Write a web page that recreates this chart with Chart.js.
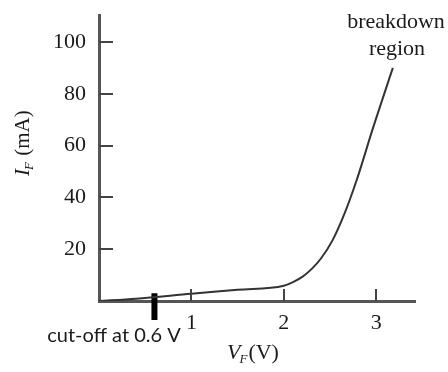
<!DOCTYPE html>
<html>
<head>
<meta charset="utf-8">
<script src="https://cdn.jsdelivr.net/npm/chart.js@4.4.0/dist/chart.umd.min.js"></script>
<style>
  html, body { margin: 0; padding: 0; background: #fff; }
  #diode { display: block; }
</style>
</head>
<body>
<canvas id="diode" width="448" height="372"></canvas>
<script>
// forward characteristic, V (volts) vs I (mA)
const voltage = [0, 0.4, 1, 1.5, 2, 2.1, 2.2, 2.3, 2.4, 2.53, 2.66, 2.79, 2.97, 3.18];
const current = [0, 0.9, 2.8, 4.3, 5.9, 7.3, 9.3, 12.3, 16.3, 23.6, 34, 46.8, 67.3, 90];

const xTicks = [1, 2, 3];
const yTicks = [20, 40, 60, 80, 100];
const xMax = 3.42;
const yMax = 110.4;

// short heavy marker for the cut-off point
const cutoffVoltage = 0.6;
const cutoffSpan = [3, -7.3];

const serif = "'Liberation Serif', 'Times New Roman', serif";
const ink = '#1a1a1a';

const curvePoints = voltage.map((v, i) => ({ x: v, y: current[i] }));
const cutoffPoints = cutoffSpan.map(c => ({ x: cutoffVoltage, y: c }));

// draws "main" + subscript + rest, starting at (x, y) on the baseline
function subText(ctx, main, sub, rest, x, y, size) {
  ctx.textBaseline = 'alphabetic';
  ctx.textAlign = 'left';
  ctx.font = 'italic ' + size + 'px ' + serif;
  ctx.fillText(main, x, y);
  x += ctx.measureText(main).width - 1;
  ctx.font = 'italic ' + Math.round(size * 0.6) + 'px ' + serif;
  ctx.fillText(sub, x, y + 4);
  x += ctx.measureText(sub).width + 1;
  ctx.font = size + 'px ' + serif;
  ctx.fillText(rest, x, y);
}

const annotations = {
  id: 'annotations',
  afterDraw(chart) {
    const ctx = chart.ctx;
    const xs = chart.scales.x, ys = chart.scales.y;
    const area = chart.chartArea;
    ctx.save();

    // tick marks pointing into the plot
    ctx.strokeStyle = '#444';
    ctx.lineWidth = 2;
    ctx.beginPath();
    xTicks.forEach(t => {
      const px = Math.round(xs.getPixelForValue(t));
      ctx.moveTo(px, area.bottom);
      ctx.lineTo(px, area.bottom - 12);
    });
    yTicks.forEach(t => {
      const py = Math.round(ys.getPixelForValue(t));
      ctx.moveTo(area.left, py);
      ctx.lineTo(area.left + 14, py);
    });
    ctx.stroke();

    ctx.fillStyle = ink;

    // breakdown label
    ctx.font = '22px ' + serif;
    ctx.textAlign = 'center';
    ctx.textBaseline = 'alphabetic';
    ctx.fillText('breakdown', 396, 28);
    ctx.fillText('region', 397, 55);

    // cut-off label
    ctx.font = "20px Lato, 'Liberation Sans', sans-serif";
    ctx.fillText('cut-off at 0.6 V', 114, 342);

    // axis titles
    subText(ctx, 'V', 'F', '(V)', 227, 359, 22);

    ctx.translate(29, 176);
    ctx.rotate(-Math.PI / 2);
    subText(ctx, 'I', 'F', ' (mA)', 0, 0, 21);

    ctx.restore();
  }
};

new Chart(document.getElementById('diode'), {
  type: 'line',
  data: {
    datasets: [
      {
        data: curvePoints,
        borderColor: '#333',
        borderWidth: 2,
        pointRadius: 0,
        cubicInterpolationMode: 'monotone',
        fill: false
      },
      {
        data: cutoffPoints,
        borderColor: '#000',
        borderWidth: 6,
        borderCapStyle: 'butt',
        pointRadius: 0,
        clip: false
      }
    ]
  },
  options: {
    responsive: false,
    animation: false,
    devicePixelRatio: 1,
    layout: { padding: { top: 15, right: 33, left: 0, bottom: 0 } },
    plugins: {
      legend: { display: false },
      tooltip: { enabled: false }
    },
    scales: {
      x: {
        type: 'linear',
        min: 0,
        max: xMax,
        afterBuildTicks: s => { s.ticks = xTicks.map(v => ({ value: v })); },
        afterFit: s => { s.height = 71; s.paddingLeft = 0; s.paddingRight = 0; },
        grid: { display: false, drawTicks: false },
        border: { display: true, color: '#555', width: 3 },
        ticks: {
          padding: 9,
          color: ink,
          font: { family: serif, size: 22 },
          maxRotation: 0
        }
      },
      y: {
        type: 'linear',
        min: 0,
        max: yMax,
        afterBuildTicks: s => { s.ticks = yTicks.map(v => ({ value: v })); },
        afterFit: s => { s.width = 99; s.paddingTop = 0; s.paddingBottom = 0; },
        grid: { display: false, drawTicks: false },
        border: { display: true, color: '#555', width: 3 },
        ticks: {
          padding: 13,
          color: ink,
          font: { family: serif, size: 22 }
        }
      }
    }
  },
  plugins: [annotations]
});
</script>
</body>
</html>
